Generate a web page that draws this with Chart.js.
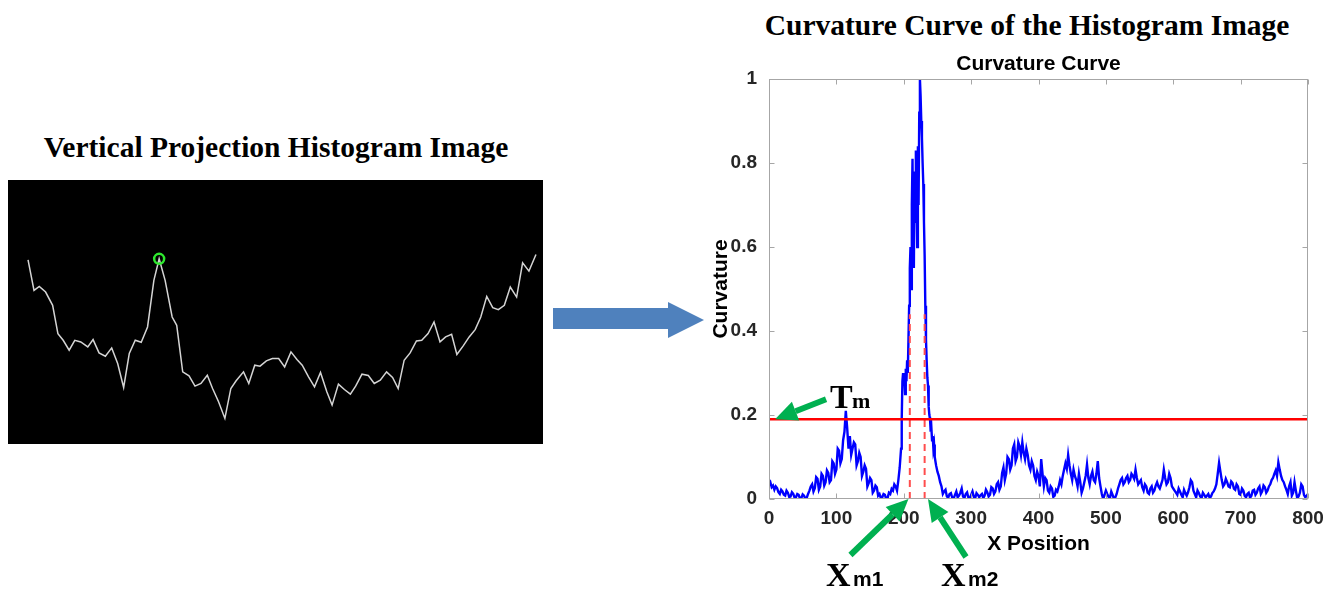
<!DOCTYPE html>
<html>
<head>
<meta charset="utf-8">
<script src="https://cdn.jsdelivr.net/npm/chart.js@4.4.1/dist/chart.umd.min.js"></script>
<style>
  body { margin: 0; width: 1337px; height: 592px; background: #fff; position: relative; overflow: hidden; }
  .title { position: absolute; font-family: "Liberation Serif", "Times New Roman", serif; font-weight: bold; white-space: nowrap; transform: translate(-50%, -50%); color: #000; }
  #leftBox { position: absolute; left: 8px; top: 180px; width: 535px; height: 264px; background: #000; }
  #rightBox { position: absolute; left: 700px; top: 50px; width: 637px; height: 542px; }
  #flow { position: absolute; left: 0; top: 0; }
</style>
</head>
<body>
<div class="title" style="left:276px; top:147px; font-size:29.5px;">Vertical Projection Histogram Image</div>
<div class="title" style="left:1027px; top:25px; font-size:29.5px;">Curvature Curve of the Histogram Image</div>
<div id="leftBox"><canvas id="projChart" width="535" height="264"></canvas></div>
<svg id="flow" width="1337" height="592">
  <polygon points="553,308 668,308 668,302 704,320 668,338 668,329 553,329" fill="#4f81bd" />
</svg>
<div id="rightBox"><canvas id="curvChart" width="637" height="542"></canvas></div>

<script>
// left panel: vertical projection (column -> level, image pixel units)
const histColumn = [80, 97, 112, 130, 150, 165, 180, 197, 213, 230, 250, 265, 282, 300, 318, 335, 352, 368, 385, 402,
  420, 438, 453, 470, 490, 503, 520, 538, 555, 572, 590, 605, 622, 640, 657, 672, 693, 708, 725, 740,
  758, 775, 793, 810, 828, 845, 860, 878, 895, 912, 930, 945, 963, 980, 997, 1012, 1030, 1048, 1065, 1082,
  1100, 1117, 1133, 1150, 1167, 1185, 1200, 1218, 1235, 1252, 1268, 1285, 1300, 1318, 1335, 1352, 1368, 1385, 1402, 1418,
  1435, 1452, 1470, 1487, 1505, 1525];
const histLevel = [554, 462, 474, 457, 417, 332, 312, 282, 312, 307, 292, 314, 274, 264, 289, 242, 170, 272, 312, 306,
  352, 492, 557, 492, 382, 357, 217, 205, 174, 182, 207, 167, 127, 77, 167, 190, 217, 182, 237, 234,
  250, 257, 257, 232, 277, 254, 237, 202, 172, 215, 157, 117, 180, 164, 150, 174, 210, 206, 182, 192,
  217, 200, 167, 252, 274, 310, 312, 332, 367, 307, 322, 330, 269, 295, 322, 344, 382, 444, 410, 404,
  417, 472, 442, 545, 520, 570];
const peakColumn = [453];
const peakLevel = [557];

// right panel: curvature curve
const xPosition = [
  0, 2, 4, 6, 8, 10, 12, 14, 16, 18, 20, 22, 24, 26, 28, 30, 32, 34, 36, 38,
  40, 42, 44, 46, 48, 50, 52, 54, 56, 58, 60, 62, 64, 66, 68, 70, 72, 74, 76, 78,
  80, 82, 84, 86, 88, 90, 92, 94, 96, 98, 100, 102, 104, 106, 108, 110, 112, 114, 116, 118,
  120, 122, 124, 126, 128, 130, 132, 134, 136, 138, 140, 142, 144, 146, 148, 150, 152, 154, 156, 158,
  160, 162, 164, 166, 168, 170, 172, 174, 176, 178, 180, 182, 184, 186, 188, 190, 192, 194,
  196, 197, 198, 199, 200, 201, 202, 203, 204, 205, 206, 207, 208, 209, 210, 211, 212, 213, 214, 215,
  216, 217, 218, 219, 220, 221, 222, 223, 224, 225, 226, 227, 228, 229, 230, 231, 232, 233, 234, 235,
  236, 237, 238, 239, 240, 241, 242, 243, 244, 245, 246, 247, 248,
  250, 252, 254, 256, 258, 260, 262, 264, 266, 268, 270, 272, 274, 276, 278, 280, 282, 284, 286, 288,
  290, 292, 294, 296, 298, 300, 302, 304, 306, 308, 310, 312, 314, 316, 318, 320, 322, 324, 326, 328,
  330, 332, 334, 336, 338, 340, 342, 344, 346, 348, 350, 352, 354, 356, 358, 360, 362, 364, 366, 368,
  370, 372, 374, 376, 378, 380, 382, 384, 386, 388, 390, 392, 394, 396, 398, 400, 402, 404, 406, 408,
  410, 412, 414, 416, 418, 420, 422, 424, 426, 428, 430, 432, 434, 436, 438, 440, 442, 444, 446, 448,
  450, 452, 454, 456, 458, 460, 462, 464, 466, 468, 470, 472, 474, 476, 478, 480, 482, 484, 486, 488,
  490, 492, 494, 496, 498, 500, 502, 504, 506, 508, 510, 512, 514, 516, 518, 520, 522, 524, 526, 528,
  530, 532, 534, 536, 538, 540, 542, 544, 546, 548, 550, 552, 554, 556, 558, 560, 562, 564, 566, 568,
  570, 572, 574, 576, 578, 580, 582, 584, 586, 588, 590, 592, 594, 596, 598, 600, 602, 604, 606, 608,
  610, 612, 614, 616, 618, 620, 622, 624, 626, 628, 630, 632, 634, 636, 638, 640, 642, 644, 646, 648,
  650, 652, 654, 656, 658, 660, 662, 664, 666, 668, 670, 672, 674, 676, 678, 680, 682, 684, 686, 688,
  690, 692, 694, 696, 698, 700, 702, 704, 706, 708, 710, 712, 714, 716, 718, 720, 722, 724, 726, 728,
  730, 732, 734, 736, 738, 740, 742, 744, 746, 748, 750, 752, 754, 756, 758, 760, 762, 764, 766, 768,
  770, 772, 774, 776, 778, 780, 782, 784, 786, 788, 790, 792, 794, 796, 798, 800];
const curvature = [
  0.035, 0.040, 0.028, 0.032, 0.022, 0.030, 0.026, 0.016, 0.012, 0.022, 0.018, 0.010, 0.008, 0.020, 0.015, 0.005, 0.006, 0.016, 0.012, 0.003,
  0.004, 0.012, 0.010, 0.001, 0.002, 0.011, 0.008, 0.000, 0.003, 0.012, 0.020, 0.030, 0.035, 0.018, 0.026, 0.052, 0.048, 0.022, 0.030, 0.060,
  0.055, 0.032, 0.040, 0.068, 0.062, 0.040, 0.045, 0.090, 0.085, 0.060, 0.070, 0.120, 0.115, 0.085, 0.095, 0.140, 0.160, 0.210, 0.170, 0.120,
  0.150, 0.105, 0.120, 0.135, 0.130, 0.080, 0.090, 0.110, 0.100, 0.055, 0.065, 0.080, 0.072, 0.030, 0.038, 0.050, 0.045, 0.015, 0.020, 0.032,
  0.028, 0.008, 0.012, 0.002, 0.004, 0.012, 0.010, 0.000, 0.002, 0.015, 0.012, 0.024, 0.020, 0.035, 0.030, 0.020, 0.045, 0.075,
  0.12, 0.19, 0.28, 0.30, 0.27, 0.29, 0.25, 0.31, 0.28, 0.33, 0.30, 0.38, 0.46, 0.55, 0.60, 0.50, 0.70, 0.81, 0.62, 0.55,
  0.78, 0.66, 0.83, 0.72, 0.60, 0.84, 0.70, 0.92, 1.00, 0.96, 0.90, 0.86, 0.80, 0.75, 0.66, 0.58, 0.46, 0.38, 0.33, 0.29,
  0.27, 0.22, 0.20, 0.19, 0.16, 0.17, 0.14, 0.15, 0.12, 0.13, 0.10, 0.09, 0.08,
  0.065, 0.055, 0.040, 0.030, 0.012, 0.018, 0.022, 0.006, 0.003, 0.012, 0.014, 0.003, 0.001, 0.010, 0.018, 0.004, 0.008, 0.015, 0.025, 0.006,
  0.002, 0.012, 0.016, 0.003, 0.001, 0.010, 0.018, 0.005, 0.002, 0.014, 0.010, 0.004, 0.009, 0.012, 0.002, 0.008, 0.022, 0.016, 0.006, 0.010,
  0.028, 0.025, 0.012, 0.018, 0.035, 0.040, 0.022, 0.030, 0.062, 0.075, 0.045, 0.060, 0.100, 0.095, 0.070, 0.080, 0.120, 0.130, 0.090, 0.100,
  0.135, 0.125, 0.105, 0.135, 0.110, 0.095, 0.120, 0.105, 0.080, 0.070, 0.090, 0.080, 0.055, 0.045, 0.065, 0.055, 0.030, 0.095, 0.060, 0.030,
  0.050, 0.045, 0.020, 0.015, 0.030, 0.025, 0.005, 0.008, 0.022, 0.018, 0.030, 0.045, 0.035, 0.055, 0.070, 0.085, 0.072, 0.105, 0.080, 0.060,
  0.045, 0.070, 0.055, 0.045, 0.030, 0.060, 0.040, 0.015, 0.025, 0.040, 0.055, 0.082, 0.050, 0.035, 0.055, 0.065, 0.045, 0.040, 0.060, 0.090,
  0.050, 0.030, 0.012, 0.000, 0.010, 0.020, 0.012, 0.005, 0.002, 0.018, 0.010, 0.000, 0.004, 0.012, 0.025, 0.035, 0.045, 0.050, 0.035, 0.040,
  0.050, 0.055, 0.040, 0.045, 0.060, 0.055, 0.048, 0.070, 0.050, 0.035, 0.040, 0.045, 0.028, 0.020, 0.035, 0.030, 0.015, 0.012, 0.025, 0.030,
  0.015, 0.020, 0.032, 0.040, 0.030, 0.025, 0.035, 0.045, 0.070, 0.050, 0.035, 0.040, 0.060, 0.050, 0.030, 0.025, 0.020, 0.015, 0.010, 0.025,
  0.018, 0.010, 0.004, 0.022, 0.014, 0.008, 0.016, 0.028, 0.045, 0.040, 0.020, 0.012, 0.004, 0.020, 0.014, 0.006, 0.002, 0.015, 0.010, 0.004,
  0.008, 0.012, 0.003, 0.006, 0.014, 0.018, 0.025, 0.035, 0.060, 0.086, 0.065, 0.045, 0.030, 0.035, 0.048, 0.040, 0.030, 0.028, 0.042, 0.038,
  0.025, 0.022, 0.035, 0.030, 0.012, 0.010, 0.025, 0.020, 0.008, 0.004, 0.012, 0.015, 0.003, 0.008, 0.020, 0.022, 0.010, 0.015, 0.025, 0.030,
  0.012, 0.018, 0.032, 0.028, 0.015, 0.020, 0.030, 0.035, 0.045, 0.050, 0.060, 0.068, 0.055, 0.087, 0.070, 0.055, 0.045, 0.040, 0.030, 0.022,
  0.012, 0.030, 0.040, 0.008, 0.015, 0.040, 0.020, 0.002, 0.006, 0.015, 0.035, 0.030, 0.010, 0.004, 0.008, 0.012];

const threshold = 0.19;
const thresholdSpan = [0, 800];
const xm1 = 209, xm2 = 231, dashTop = 0.44;
const xTicks = [0, 100, 200, 300, 400, 500, 600, 700, 800];
const yTicks = [0, 0.2, 0.4, 0.6, 0.8, 1];

const SANS = '"Liberation Sans", Arial, sans-serif';
const SERIF = '"Liberation Serif", "Times New Roman", serif';
const AXIS_GREY = '#a6a6a6';
const LABEL = '#262626';
const GREEN = '#00b050';

// left panel
new Chart(document.getElementById('projChart'), {
  type: 'line',
  data: {
    datasets: [
      {
        data: peakColumn.map((c, i) => ({ x: c, y: peakLevel[i] })),
        showLine: false,
        pointRadius: 5,
        pointBorderWidth: 2.5,
        pointBorderColor: '#2ee82e',
        pointBackgroundColor: 'rgba(0,0,0,0)'
      },
      {
        data: histColumn.map((c, i) => ({ x: c, y: histLevel[i] })),
        borderColor: '#d4d4d4',
        borderWidth: 1.5,
        pointRadius: 0,
        tension: 0
      }
    ]
  },
  options: {
    responsive: false,
    animation: false,
    devicePixelRatio: 1,
    layout: { padding: 0, autoPadding: false },
    plugins: { legend: { display: false }, tooltip: { enabled: false } },
    scales: {
      x: { type: 'linear', min: 23, max: 1545, display: false },
      y: { min: 0, max: 794, display: false }
    }
  }
});

function drawArrow(ctx, x0, y0, x1, y1) {
  const ang = Math.atan2(y1 - y0, x1 - x0);
  const headLen = 22, headHalf = 10;
  const bx = x1 - headLen * Math.cos(ang), by = y1 - headLen * Math.sin(ang);
  ctx.strokeStyle = GREEN;
  ctx.fillStyle = GREEN;
  ctx.lineWidth = 6;
  ctx.beginPath();
  ctx.moveTo(x0, y0);
  ctx.lineTo(bx, by);
  ctx.stroke();
  ctx.beginPath();
  ctx.moveTo(x1, y1);
  ctx.lineTo(bx + headHalf * Math.sin(ang), by - headHalf * Math.cos(ang));
  ctx.lineTo(bx - headHalf * Math.sin(ang), by + headHalf * Math.cos(ang));
  ctx.closePath();
  ctx.fill();
}

// MATLAB style box with inward ticks, plus the subtitle centred on the axes
const boxPlugin = {
  id: 'box',
  afterDraw(chart) {
    const { ctx, chartArea: a, scales: { x, y } } = chart;
    const L = Math.round(a.left) + 0.5, R = Math.round(a.right) - 0.5;
    const T = Math.round(a.top) + 0.5, B = Math.round(a.bottom) - 0.5;
    ctx.save();
    ctx.strokeStyle = AXIS_GREY;
    ctx.lineWidth = 1;
    ctx.strokeRect(L, T, R - L, B - T);
    ctx.beginPath();
    xTicks.forEach(v => {
      const px = Math.round(x.getPixelForValue(v)) + 0.5;
      ctx.moveTo(px, B); ctx.lineTo(px, B - 5);
      ctx.moveTo(px, T); ctx.lineTo(px, T + 5);
    });
    yTicks.forEach(v => {
      const py = Math.round(y.getPixelForValue(v)) + 0.5;
      ctx.moveTo(L, py); ctx.lineTo(L + 5, py);
      ctx.moveTo(R, py); ctx.lineTo(R - 5, py);
    });
    ctx.stroke();
    ctx.fillStyle = '#000';
    ctx.font = 'bold 21px ' + SANS;
    ctx.textAlign = 'center';
    ctx.textBaseline = 'middle';
    ctx.fillText('Curvature Curve', (a.left + a.right) / 2, 14);
    ctx.restore();
  }
};

// green arrows and labels
const notePlugin = {
  id: 'notes',
  afterDraw(chart) {
    const { ctx, scales: { x, y } } = chart;
    ctx.save();
    const tmX = x.getPixelForValue(9), tmY = y.getPixelForValue(threshold);
    drawArrow(ctx, tmX + 51, tmY - 20, tmX, tmY);
    const m1X = x.getPixelForValue(207), m1Y = y.getPixelForValue(0);
    drawArrow(ctx, m1X - 58, m1Y + 56, m1X, m1Y);
    const m2X = x.getPixelForValue(236), m2Y = y.getPixelForValue(0);
    drawArrow(ctx, m2X + 38, m2Y + 58, m2X, m2Y);

    ctx.fillStyle = '#000';
    ctx.textAlign = 'left';
    ctx.textBaseline = 'alphabetic';
    ctx.font = 'bold 34px ' + SERIF;
    ctx.fillText('T', 130, 358);
    ctx.fillText('X', 126, 536);
    ctx.fillText('X', 241, 536);
    ctx.font = 'bold 22px ' + SERIF;
    ctx.fillText('m', 152, 358);
    ctx.font = 'bold 21px ' + SANS;
    ctx.fillText('m1', 153, 536);
    ctx.fillText('m2', 268, 536);
    ctx.restore();
  }
};

const tickFont = { family: SANS, size: 19, weight: 'bold' };
const titleFont = { family: SANS, size: 21, weight: 'bold' };

new Chart(document.getElementById('curvChart'), {
  type: 'line',
  data: {
    datasets: [
      {
        label: 'Tm',
        data: thresholdSpan.map(v => ({ x: v, y: threshold })),
        borderColor: '#ff0000',
        borderWidth: 2.5,
        pointRadius: 0
      },
      {
        label: 'Xm1',
        data: [{ x: xm1, y: 0 }, { x: xm1, y: dashTop }],
        borderColor: '#ff4d4d',
        borderWidth: 2,
        borderDash: [7, 5],
        pointRadius: 0
      },
      {
        label: 'Xm2',
        data: [{ x: xm2, y: 0 }, { x: xm2, y: dashTop }],
        borderColor: '#ff4d4d',
        borderWidth: 2,
        borderDash: [7, 5],
        pointRadius: 0
      },
      {
        label: 'Curvature',
        data: xPosition.map((v, i) => ({ x: v, y: curvature[i] })),
        borderColor: '#0000ff',
        borderWidth: 2.4,
        pointRadius: 0,
        tension: 0
      }
    ]
  },
  options: {
    responsive: false,
    animation: false,
    devicePixelRatio: 1,
    layout: { padding: { left: 0, right: 29, top: 29, bottom: 0 }, autoPadding: false },
    plugins: {
      legend: { display: false },
      tooltip: { enabled: false },
      title: { display: false }
    },
    scales: {
      x: {
        type: 'linear',
        min: 0,
        max: 800,
        afterBuildTicks: axis => { axis.ticks = xTicks.map(v => ({ value: v })); },
        afterFit: axis => { axis.height = 93; },
        grid: { display: false, drawTicks: false },
        border: { display: false },
        ticks: { padding: 8, color: LABEL, font: tickFont, maxRotation: 0, autoSkip: false },
        title: { display: true, text: 'X Position', color: '#000', font: titleFont, padding: { top: 0, bottom: 35 } }
      },
      y: {
        min: 0,
        max: 1,
        afterBuildTicks: axis => { axis.ticks = yTicks.map(v => ({ value: v })); },
        afterFit: axis => { axis.width = 69; },
        grid: { display: false, drawTicks: false },
        border: { display: false },
        ticks: { padding: 12, color: LABEL, font: tickFont, callback: v => String(+v.toFixed(1)) },
        title: { display: true, text: 'Curvature', color: '#000', font: titleFont, padding: { top: 9, bottom: 0 } }
      }
    }
  },
  plugins: [boxPlugin, notePlugin]
});
</script>
</body>
</html>
